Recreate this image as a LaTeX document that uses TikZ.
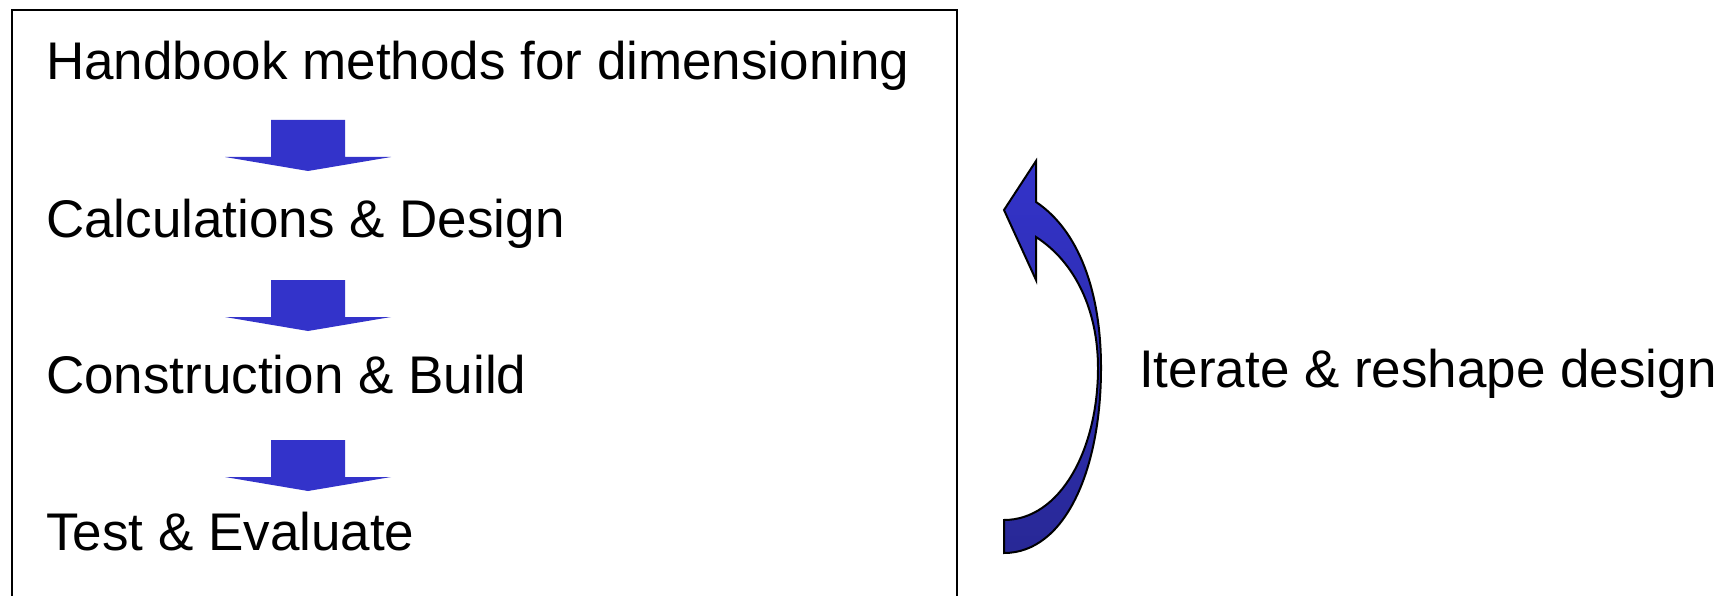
\documentclass[tikz,border=0pt]{standalone}
\usepackage{fontspec}
\setmainfont{Liberation Sans}
\usepackage{tikz}
\usetikzlibrary{positioning,calc}
\usepackage{xcolor}

\definecolor{arrblue}{RGB}{51,51,202}
\definecolor{arrdark}{RGB}{40,40,150}

\begin{document}
\begin{tikzpicture}[
  x=1pt, y=-1pt,
  lbl/.style={anchor=base west, inner sep=0pt, font=\fontsize{53}{60}\selectfont},
  frame/.style={draw, line width=2pt},
  downarr/.pic={\fill[arrblue] (-37,0) -- (37,0) -- (37,37) -- (83,37) -- (0,51) -- (-83,37) -- (-37,37) -- cycle;},
]
  \useasboundingbox (0,0) rectangle (1731,596);

  % Box, open at the bottom edge
  \draw[frame] (12,600) -- (12,10) -- (957,10) -- (957,600);

  % Steps
  \node[lbl] (hb) at (46,80) {Handbook methods for dimensioning};
  \node[lbl] (cd) at (46,237) {Calculations \& Design};
  \node[lbl] (cb) at (46,393) {Construction \& Build};
  \node[lbl] (te) at (46,550) {Test \& Evaluate};

  % Arrows between steps
  \pic at (308,120) {downarr};
  \pic at (308,280) {downarr};
  \pic at (308,440) {downarr};

  % Loop back
  \shade[top color=arrblue, bottom color=arrdark, draw=black, line width=2pt, line join=miter]
    (1036,161) -- (1004,210) -- (1036,280) -- (1036,237)
    .. controls (1075,262) and (1098,310) .. (1098,368)
    .. controls (1098,450) and (1060,520) .. (1004,520)
    -- (1004,553)
    .. controls (1065,553) and (1101,470) .. (1101,368)
    .. controls (1101,290) and (1078,230) .. (1036,202) -- cycle;

  \node[lbl] (it) at (1139,387) {Iterate \& reshape design};
\end{tikzpicture}
\end{document}
